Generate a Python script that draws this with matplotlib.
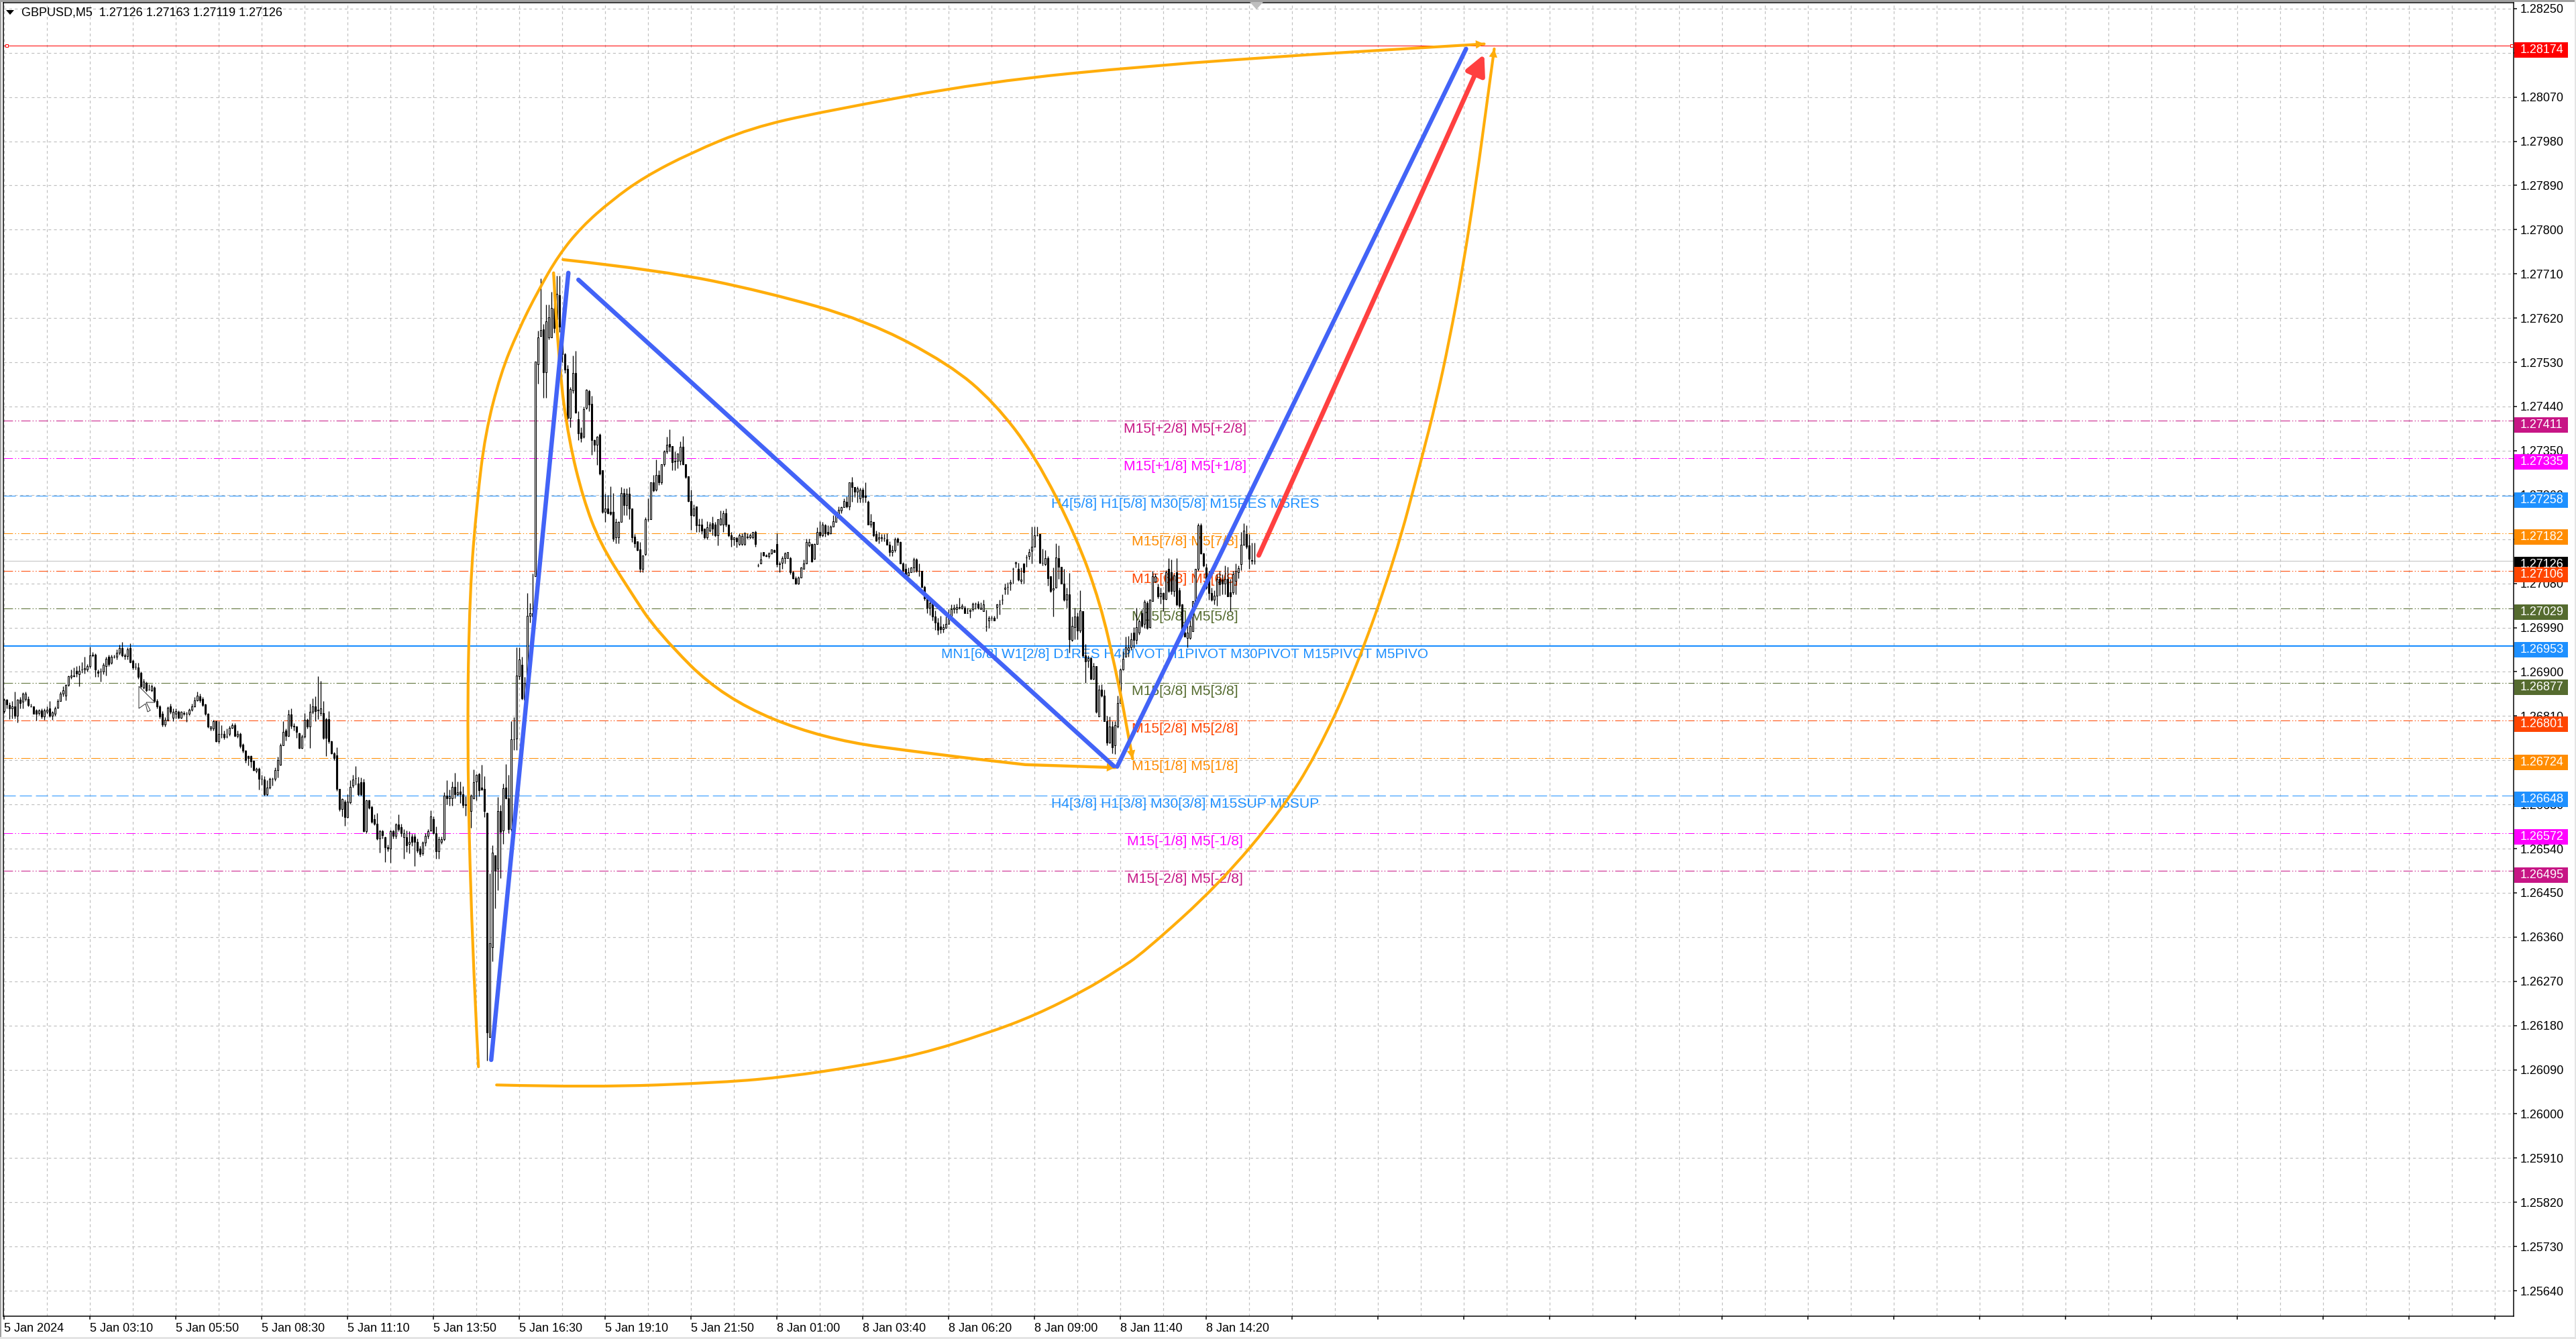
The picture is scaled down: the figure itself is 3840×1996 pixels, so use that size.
import numpy as np
import matplotlib
matplotlib.use("Agg")
import matplotlib.pyplot as plt
from matplotlib.path import Path
from matplotlib.patches import PathPatch, Rectangle, FancyArrowPatch, Polygon
from matplotlib.transforms import IdentityTransform, blended_transform_factory

# === Dati: GBPUSD M5, prezzi in punti sopra 1.26000 ===
BASE = 1.26
POINT = 1e-5

open_pts = [
    820, 843, 832, 825, 830, 811, 843, 839, 845, 845,
    830, 830, 822, 816, 821, 809, 819, 825, 811, 814,
    827, 841, 855, 852, 873, 889, 891, 902, 895, 904,
    905, 905, 911, 934, 935, 900, 900, 900, 912, 930,
    918, 930, 930, 939, 949, 934, 932, 948, 923, 910,
    909, 898, 868, 877, 864, 862, 868, 840, 830, 814,
    793, 802, 830, 807, 814, 818, 807, 816, 814, 814,
    823, 830, 842, 850, 844, 833, 814, 784, 785, 799,
    759, 773, 773, 768, 773, 786, 792, 770, 774, 752,
    739, 728, 728, 719, 698, 702, 682, 681, 650, 664,
    682, 682, 700, 711, 751, 780, 770, 813, 790, 789,
    775, 745, 768, 802, 789, 818, 830, 823, 816, 816,
    804, 804, 758, 734, 730, 661, 620, 636, 604, 634,
    668, 684, 673, 675, 675, 575, 638, 625, 600, 591,
    561, 575, 563, 543, 540, 575, 566, 589, 584, 563,
    563, 549, 565, 565, 554, 540, 531, 552, 566, 577,
    600, 572, 535, 554, 559, 648, 643, 643, 666, 651,
    656, 651, 630, 629, 617, 643, 676, 692, 664, 662,
    612, 156, 339, 526, 499, 617, 577, 664, 642, 579,
    763, 764, 891, 914, 843, 866, 1014, 1019, 1094, 1526,
    1583, 1597, 1510, 1580, 1581, 1640, 1617, 1667, 1603, 1546,
    1517, 1417, 1473, 1508, 1414, 1387, 1378, 1437, 1471, 1446,
    1372, 1362, 1383, 1310, 1226, 1232, 1226, 1225, 1173, 1173,
    1205, 1264, 1239, 1262, 1232, 1175, 1166, 1149, 1109, 1139,
    1210, 1210, 1285, 1271, 1301, 1285, 1323, 1348, 1364, 1360,
    1328, 1330, 1330, 1358, 1323, 1298, 1248, 1219, 1237, 1200,
    1200, 1191, 1173, 1187, 1203, 1200, 1178, 1200, 1200, 1223,
    1200, 1178, 1169, 1172, 1160, 1160, 1160, 1175, 1174, 1174,
    1185, 1117, 1121, 1144, 1137, 1135, 1141, 1148, 1160, 1119,
    1122, 1132, 1132, 1132, 1103, 1091, 1080, 1092, 1110, 1121,
    1157, 1160, 1130, 1160, 1185, 1178, 1198, 1185, 1182, 1196,
    1205, 1217, 1228, 1235, 1246, 1236, 1286, 1276, 1266, 1253,
    1271, 1258, 1246, 1200, 1205, 1180, 1171, 1172, 1172, 1170,
    1159, 1143, 1148, 1171, 1164, 1121, 1109, 1096, 1103, 1112,
    1129, 1105, 1105, 1073, 1050, 1030, 1040, 1012, 1000, 992,
    987, 989, 998, 1014, 1028, 1028, 1030, 1030, 1030, 1019,
    1024, 1028, 1039, 1039, 1028, 1024, 992, 1005, 1010, 1010,
    1032, 1037, 1046, 1069, 1073, 1080, 1110, 1121, 1110, 1085,
    1121, 1133, 1135, 1147, 1155, 1178, 1180, 1122, 1119, 1132,
    1094, 1067, 1071, 1132, 1114, 1080, 1046, 1058, 965, 991,
    1012, 984, 1023, 934, 923, 928, 886, 912, 809, 864,
    852, 800, 756, 789, 750, 789, 837, 905, 930, 944,
    950, 980, 965, 980, 1019, 998, 1040, 991, 1044, 1084,
    1073, 1053, 1060, 1048, 1110, 1103, 1064, 1103, 1066, 1037,
    980, 969, 969, 982, 1044, 1110, 1198, 1141, 1112, 1094,
    1060, 1046, 1055, 1089, 1087, 1080, 1089, 1062, 1062, 1085,
    1103, 1119, 1159, 1181, 1157, 1127, 1126,
]

close_pts = [
    843, 834, 825, 830, 811, 843, 836, 855, 855, 832,
    830, 814, 814, 821, 809, 821, 823, 811, 817, 825,
    841, 855, 862, 873, 891, 893, 893, 896, 902, 905,
    907, 911, 934, 935, 905, 898, 900, 914, 927, 915,
    930, 931, 939, 949, 934, 932, 946, 920, 909, 910,
    889, 871, 880, 862, 864, 871, 840, 830, 809, 793,
    802, 827, 818, 818, 820, 807, 818, 815, 814, 823,
    830, 842, 852, 842, 832, 814, 789, 789, 799, 759,
    773, 773, 767, 768, 786, 791, 770, 774, 749, 739,
    720, 725, 718, 700, 702, 682, 682, 650, 665, 682,
    682, 700, 720, 751, 777, 770, 813, 790, 789, 777,
    745, 768, 802, 789, 818, 830, 820, 822, 826, 766,
    766, 758, 734, 725, 661, 620, 641, 604, 636, 666,
    681, 684, 650, 650, 576, 638, 624, 595, 591, 561,
    575, 568, 543, 540, 575, 566, 589, 579, 572, 572,
    547, 554, 554, 554, 536, 529, 552, 566, 575, 606,
    572, 535, 559, 559, 648, 643, 647, 666, 651, 655,
    650, 629, 629, 642, 648, 675, 690, 659, 660, 616,
    166, 348, 532, 495, 616, 574, 663, 642, 579, 762,
    762, 892, 925, 846, 877, 1014, 1019, 1012, 1531, 1581,
    1595, 1510, 1613, 1621, 1641, 1600, 1669, 1603, 1546, 1515,
    1417, 1476, 1508, 1428, 1385, 1376, 1435, 1474, 1444, 1371,
    1362, 1378, 1303, 1226, 1232, 1223, 1221, 1171, 1205, 1205,
    1264, 1239, 1262, 1232, 1173, 1162, 1148, 1109, 1137, 1210,
    1211, 1285, 1269, 1301, 1285, 1323, 1348, 1362, 1358, 1326,
    1330, 1344, 1358, 1323, 1296, 1248, 1219, 1232, 1198, 1198,
    1187, 1173, 1194, 1200, 1191, 1178, 1210, 1212, 1223, 1200,
    1178, 1169, 1173, 1166, 1178, 1176, 1182, 1174, 1178, 1185,
    1160, 1117, 1129, 1137, 1136, 1141, 1149, 1144, 1119, 1121,
    1132, 1141, 1143, 1103, 1091, 1080, 1092, 1112, 1121, 1164,
    1164, 1125, 1160, 1185, 1178, 1199, 1182, 1180, 1196, 1207,
    1219, 1230, 1235, 1248, 1236, 1286, 1276, 1266, 1273, 1271,
    1255, 1256, 1200, 1207, 1178, 1167, 1173, 1174, 1172, 1158,
    1143, 1148, 1170, 1164, 1121, 1107, 1098, 1103, 1112, 1129,
    1105, 1105, 1073, 1050, 1030, 1040, 1012, 1000, 985, 987,
    991, 998, 1014, 1028, 1030, 1031, 1031, 1035, 1019, 1019,
    1026, 1039, 1039, 1030, 1030, 1037, 992, 1010, 1010, 1005,
    1037, 1037, 1046, 1071, 1073, 1082, 1110, 1123, 1087, 1087,
    1103, 1133, 1144, 1155, 1178, 1178, 1122, 1122, 1132, 1091,
    1064, 1070, 1133, 1113, 1080, 1046, 1057, 966, 993, 1012,
    984, 1025, 934, 921, 928, 886, 911, 818, 864, 852,
    800, 756, 788, 746, 791, 837, 904, 927, 950, 950,
    966, 965, 991, 1003, 994, 1043, 989, 1047, 1094, 1094,
    1053, 1060, 1048, 1103, 1064, 1064, 1096, 1037, 1035, 975,
    972, 980, 994, 1044, 1110, 1198, 1141, 1117, 1071, 1060,
    1046, 1055, 1089, 1078, 1080, 1089, 1053, 1053, 1098, 1105,
    1111, 1159, 1187, 1155, 1130, 1126, 1126,
]

high_pts = [
    846, 845, 838, 840, 860, 845, 848, 858, 859, 850,
    835, 830, 824, 824, 825, 825, 829, 841, 820, 830,
    845, 859, 870, 875, 893, 905, 909, 911, 913, 920,
    930, 916, 951, 940, 938, 905, 908, 918, 930, 935,
    935, 935, 945, 955, 960, 937, 950, 958, 925, 918,
    918, 900, 885, 880, 875, 875, 870, 845, 832, 820,
    808, 830, 835, 825, 825, 822, 820, 820, 818, 826,
    835, 848, 860, 855, 848, 835, 816, 790, 802, 801,
    800, 792, 780, 785, 790, 795, 795, 780, 776, 755,
    741, 730, 730, 720, 705, 705, 690, 688, 680, 685,
    685, 705, 727, 755, 800, 785, 823, 825, 795, 790,
    776, 772, 816, 805, 835, 846, 850, 891, 881, 840,
    806, 820, 760, 737, 746, 662, 643, 640, 650, 680,
    690, 708, 686, 685, 682, 640, 640, 628, 610, 612,
    578, 578, 565, 548, 578, 578, 592, 610, 590, 580,
    577, 575, 570, 570, 560, 545, 555, 572, 580, 618,
    605, 585, 565, 565, 655, 680, 660, 677, 694, 676,
    677, 667, 646, 660, 651, 701, 692, 694, 711, 688,
    614, 489, 547, 526, 645, 629, 673, 712, 690, 800,
    808, 950, 950, 930, 889, 1060, 1040, 1100, 1531, 1594,
    1701, 1608, 1647, 1647, 1674, 1650, 1706, 1706, 1610, 1549,
    1524, 1480, 1544, 1553, 1430, 1398, 1440, 1476, 1474, 1462,
    1373, 1380, 1385, 1310, 1262, 1260, 1278, 1264, 1212, 1207,
    1276, 1273, 1273, 1276, 1232, 1180, 1166, 1164, 1137, 1214,
    1253, 1285, 1301, 1332, 1310, 1323, 1351, 1378, 1394, 1360,
    1348, 1344, 1369, 1380, 1323, 1298, 1271, 1241, 1237, 1212,
    1212, 1191, 1206, 1205, 1216, 1205, 1210, 1228, 1228, 1232,
    1200, 1185, 1173, 1175, 1182, 1182, 1184, 1182, 1182, 1185,
    1187, 1120, 1144, 1144, 1139, 1143, 1149, 1149, 1182, 1125,
    1135, 1143, 1144, 1134, 1105, 1094, 1094, 1114, 1128, 1171,
    1171, 1162, 1162, 1194, 1207, 1205, 1201, 1198, 1198, 1219,
    1225, 1237, 1237, 1253, 1257, 1286, 1296, 1276, 1278, 1275,
    1275, 1285, 1249, 1221, 1205, 1187, 1185, 1180, 1180, 1182,
    1165, 1157, 1173, 1173, 1166, 1123, 1121, 1112, 1114, 1133,
    1132, 1121, 1105, 1075, 1055, 1048, 1045, 1025, 1010, 1014,
    998, 1012, 1028, 1037, 1037, 1039, 1051, 1039, 1035, 1030,
    1028, 1041, 1041, 1044, 1041, 1046, 1026, 1014, 1014, 1014,
    1039, 1046, 1058, 1080, 1082, 1087, 1112, 1125, 1122, 1112,
    1111, 1138, 1150, 1196, 1196, 1196, 1180, 1151, 1148, 1135,
    1094, 1112, 1162, 1157, 1114, 1110, 1071, 1101, 1012, 1030,
    1021, 1066, 1023, 957, 934, 930, 918, 912, 873, 875,
    864, 811, 809, 800, 800, 852, 907, 941, 971, 973,
    980, 991, 1030, 1007, 1028, 1046, 1044, 1048, 1105, 1100,
    1080, 1071, 1062, 1107, 1132, 1128, 1098, 1132, 1071, 1039,
    1003, 1003, 1021, 1044, 1110, 1203, 1203, 1142, 1121, 1105,
    1071, 1066, 1098, 1105, 1098, 1116, 1114, 1089, 1105, 1121,
    1116, 1185, 1203, 1198, 1180, 1163, 1163,
]

low_pts = [
    816, 825, 804, 805, 805, 797, 825, 825, 840, 830,
    828, 814, 801, 812, 805, 802, 815, 808, 802, 810,
    825, 840, 850, 842, 871, 885, 889, 890, 870, 898,
    896, 900, 908, 930, 890, 890, 880, 895, 893, 912,
    915, 928, 925, 935, 930, 925, 925, 918, 905, 905,
    885, 868, 865, 860, 862, 860, 838, 825, 805, 788,
    788, 800, 815, 800, 805, 805, 805, 812, 798, 812,
    820, 828, 840, 838, 830, 812, 786, 781, 780, 757,
    755, 765, 762, 765, 770, 785, 768, 765, 745, 735,
    715, 710, 705, 698, 695, 660, 670, 648, 648, 662,
    668, 678, 685, 710, 750, 760, 768, 785, 780, 765,
    744, 743, 765, 785, 745, 815, 800, 803, 810, 763,
    728, 755, 732, 720, 658, 616, 605, 586, 603, 632,
    665, 670, 648, 648, 574, 572, 620, 592, 588, 558,
    532, 560, 513, 535, 511, 560, 560, 575, 565, 520,
    533, 530, 545, 504, 532, 524, 527, 545, 560, 575,
    570, 520, 520, 550, 557, 630, 628, 628, 643, 648,
    633, 624, 607, 620, 583, 641, 638, 646, 659, 604,
    109, 156, 310, 419, 456, 480, 550, 641, 572, 575,
    741, 741, 884, 843, 841, 850, 1000, 1000, 1094, 1487,
    1585, 1458, 1458, 1576, 1581, 1590, 1603, 1592, 1530, 1508,
    1414, 1398, 1467, 1426, 1371, 1367, 1376, 1435, 1430, 1342,
    1348, 1321, 1301, 1223, 1205, 1221, 1219, 1166, 1162, 1162,
    1205, 1219, 1219, 1210, 1164, 1153, 1146, 1103, 1103, 1137,
    1207, 1210, 1266, 1268, 1280, 1282, 1319, 1345, 1348, 1310,
    1310, 1314, 1321, 1321, 1294, 1246, 1189, 1216, 1185, 1185,
    1180, 1171, 1169, 1185, 1178, 1175, 1157, 1198, 1185, 1196,
    1175, 1155, 1157, 1153, 1157, 1157, 1157, 1171, 1171, 1171,
    1155, 1114, 1121, 1135, 1134, 1132, 1139, 1144, 1114, 1103,
    1109, 1121, 1132, 1098, 1089, 1078, 1078, 1092, 1110, 1121,
    1155, 1123, 1128, 1160, 1173, 1175, 1175, 1178, 1180, 1196,
    1205, 1217, 1223, 1235, 1234, 1230, 1246, 1255, 1244, 1244,
    1244, 1244, 1200, 1194, 1175, 1165, 1162, 1166, 1166, 1158,
    1135, 1135, 1143, 1157, 1121, 1102, 1096, 1096, 1103, 1103,
    1103, 1094, 1071, 1045, 1020, 1015, 1005, 985, 975, 978,
    980, 989, 998, 1014, 1019, 1019, 1028, 1028, 1019, 1019,
    1010, 1024, 1028, 1028, 1028, 1028, 982, 989, 1005, 1005,
    1008, 1017, 1037, 1058, 1058, 1066, 1080, 1112, 1085, 1080,
    1080, 1113, 1128, 1121, 1155, 1176, 1121, 1117, 1117, 1075,
    1062, 1012, 1071, 1089, 1080, 1044, 1030, 939, 962, 966,
    966, 980, 930, 877, 909, 884, 884, 816, 809, 848,
    800, 751, 755, 734, 732, 786, 837, 903, 930, 930,
    944, 948, 957, 975, 991, 989, 987, 989, 1044, 1082,
    1050, 1039, 1023, 1046, 1062, 1057, 1053, 1034, 1030, 971,
    971, 950, 966, 982, 1044, 1105, 1139, 1114, 1069, 1046,
    1044, 1037, 1035, 1055, 1057, 1057, 1053, 1023, 1057, 1057,
    1091, 1107, 1157, 1151, 1110, 1119, 1119,
]

# Griglia e assi
y_ticks_top = 1.28250
y_tick_step = 0.0009
y_tick_count = 30
x_labels = ["5 Jan 2024", "5 Jan 03:10", "5 Jan 05:50", "5 Jan 08:30", "5 Jan 11:10",
            "5 Jan 13:50", "5 Jan 16:30", "5 Jan 19:10", "5 Jan 21:50", "8 Jan 01:00",
            "8 Jan 03:40", "8 Jan 06:20", "8 Jan 09:00", "8 Jan 11:40", "8 Jan 14:20"]
header = "GBPUSD,M5  1.27126 1.27163 1.27119 1.27126"

# Livelli orizzontali (prezzo, colore, stile)
level_prices = [1.28174, 1.27411, 1.27335, 1.27258, 1.27182, 1.27126, 1.27106, 1.27029,
                1.26953, 1.26877, 1.26801, 1.26724, 1.26648, 1.26572, 1.26495]
level_colors = ["#FF0000", "#C71585", "#FF00FF", "#1E90FF", "#FF8C00", "#000000", "#FF4500", "#556B2F",
                "#1E90FF", "#556B2F", "#FF4500", "#FF8C00", "#1E90FF", "#FF00FF", "#C71585"]
level_styles = ["solid", "dd", "dd", "dash", "dd", "price", "dd", "dd",
                "thick", "dd", "dd", "dd", "dash", "dd", "dd"]
level_texts = ["", "M15[+2/8] M5[+2/8]", "M15[+1/8] M5[+1/8]",
               "H4[5/8] H1[5/8] M30[5/8] M15RES M5RES", "M15[7/8] M5[7/8]", "",
               "M15[6/8] M5[6/8]", "M15[5/8] M5[5/8]",
               "MN1[6/8] W1[2/8] D1RES H4PIVOT H1PIVOT M30PIVOT M15PIVOT M5PIVO",
               "M15[3/8] M5[3/8]", "M15[2/8] M5[2/8]", "M15[1/8] M5[1/8]",
               "H4[3/8] H1[3/8] M30[3/8] M15SUP M5SUP", "M15[-1/8] M5[-1/8]", "M15[-2/8] M5[-2/8]"]
level_text_bar = 440

# Zigzag blu e freccia rossa (indice barra, prezzo)
zigzag_x = [[181.5, 210.25], [214, 413.5], [414.75, 544.75]]
zigzag_y = [[1.26110, 1.27712], [1.27698, 1.26708], [1.26707, 1.28168]]
red_x = [467.5, 551.5]
red_y = [1.27137, 1.28157]

# Archi arancioni
arc_a_x = [176.75, 174.25, 172.5, 173.5, 176.25, 179.25, 185, 191.5, 199, 206.75, 215.25, 226.25, 238.5, 255.75, 278.25, 304.75, 366, 427.25, 488.5, 551.5]
arc_a_y = [1.26096, 1.26356, 1.26763, 1.27066, 1.27248, 1.27384, 1.27507, 1.27594, 1.27676, 1.27749, 1.27806, 1.27859, 1.27907, 1.27956, 1.28007, 1.28040, 1.28101, 1.28134, 1.28157, 1.28178]
arc_b_x = [208.25, 245, 283.25, 321.5, 352.25, 369, 384.25, 399.5, 408.5, 414.25, 416.75, 420.5]
arc_b_y = [1.27739, 1.27717, 1.27674, 1.27615, 1.27526, 1.27448, 1.27339, 1.27175, 1.27039, 1.26902, 1.26834, 1.26723]
arc_c_x = [204.75, 206.75, 210.5, 215.75, 222, 233, 243.5, 268, 304.75, 348.5, 380.5, 414]
arc_c_y = [1.27712, 1.27517, 1.27370, 1.27253, 1.27162, 1.27066, 1.26980, 1.26846, 1.26763, 1.26731, 1.26711, 1.26705]
arc_d_x = [183.5, 219, 268, 292.25, 316.75, 341, 365.75, 384.25, 402.5, 414.75, 424.5, 453, 476, 488.75, 503.5, 518.25, 528.25, 533.5, 538.5, 543.5, 548.5, 552.25, 555.25]
arc_d_y = [1.26059, 1.26054, 1.26064, 1.26076, 1.26096, 1.26121, 1.26163, 1.26201, 1.26251, 1.26292, 1.26328, 1.26469, 1.26619, 1.26729, 1.26902, 1.27130, 1.27335, 1.27448, 1.27574, 1.27721, 1.27896, 1.28047, 1.28168]

FONT = "Liberation Sans"
W, H = 3840, 1996
plt.rcParams["font.family"] = [FONT, "DejaVu Sans"]
plt.rcParams["lines.scale_dashes"] = False

PX = 0.72  # un pixel in punti a dpi 100
GRID = "#C0C0C0"
ORANGE = "#FFAD0A"
BLUE = "#4263F7"
RED = "#FF4040"
TICK_SIZE = 13

bars = np.arange(len(close_pts))
opens = BASE + np.array(open_pts) * POINT
closes = BASE + np.array(close_pts) * POINT
highs = BASE + np.array(high_pts) * POINT
lows = BASE + np.array(low_pts) * POINT

fig = plt.figure(figsize=(W / 100, H / 100), dpi=100, facecolor="white")
ax = fig.add_axes([4.5 / W, (H - 1961.7) / H, (3746.7 - 4.5) / W, (1961.7 - 4) / H])
ax.set_xlim(-0.4, 935)
ax.set_ylim(1.255887, 1.28262)

# griglia
y_ticks = [y_ticks_top - i * y_tick_step for i in range(y_tick_count)]
ax.yaxis.tick_right()
ax.set_yticks(y_ticks)
ax.set_yticklabels(["%.5f" % t for t in y_ticks])
tick_bars = np.arange(0, 935, 32)
ax.set_xticks(tick_bars)
ax.set_xticklabels([x_labels[i] if i < len(x_labels) else "" for i in range(len(tick_bars))], ha="left")
ax.set_xticks(np.arange(16, 935, 32), minor=True)
ax.tick_params(axis="both", which="major", length=5 * PX, width=1.5 * PX, pad=5 * PX, labelsize=TICK_SIZE)
ax.tick_params(axis="x", which="minor", length=0)
ax.set_axisbelow(True)
ax.grid(True, which="both", color=GRID, lw=1.2 * PX, linestyle=(0, (3, 3)))
for s in ax.spines.values():
    s.set_linewidth(1.5 * PX)
    s.set_color("black")

# Disegna i livelli
dash_styles = {"dd": (0, (10, 2.2, 1.1, 2.2, 1.1, 2.2)), "dash": (0, (13, 4.3)), "solid": "-", "thick": "-", "price": "-"}
for price, col, st, txt in zip(level_prices, level_colors, level_styles, level_texts):
    line_col = GRID if st == "price" else col
    lw = 2.2 * PX if st == "thick" else 1.0 * PX
    ax.axhline(price, color=line_col, lw=lw, linestyle=dash_styles[st], zorder=1.8)
    if txt:
        size = 15.2 if len(txt) < 50 else 14.95
        ax.text(level_text_bar, price - 12.5 * 1.3657e-5, txt, color=col, fontsize=size, ha="center", va="center", zorder=2.2)

# Candele
ax.vlines(bars, lows, highs, color="black", lw=1.3 * PX, zorder=3)
up = closes >= opens
ax.bar(bars[up], (closes - opens)[up], bottom=opens[up], width=0.5, facecolor="white", edgecolor="black", lw=1.1 * PX, zorder=3.1)
ax.bar(bars[~up], (opens - closes)[~up], bottom=closes[~up], width=0.5, facecolor="black", edgecolor="black", lw=1.1 * PX, zorder=3.1)


def draw_arc(xs, ys, lw):
    # curva liscia con i punti letti come controlli, freccia all'ultimo tratto
    pts = list(zip(xs[:-1], ys[:-1]))
    verts = [pts[0]]
    codes = [Path.MOVETO]
    for a, b in zip(pts[1:-1], pts[2:]):
        verts += [a, ((a[0] + b[0]) / 2, (a[1] + b[1]) / 2)]
        codes += [Path.CURVE3, Path.CURVE3]
    verts += [pts[-1], (xs[-1], ys[-1])]
    codes += [Path.LINETO, Path.LINETO]
    ax.add_patch(PathPatch(Path(verts, codes), fill=False, edgecolor=ORANGE, lw=lw, capstyle="round", joinstyle="round", zorder=4))
    head = FancyArrowPatch((xs[-2], ys[-2]), (xs[-1], ys[-1]), arrowstyle="-|>,head_length=9,head_width=4.5",
                           mutation_scale=1, color=ORANGE, lw=0, shrinkA=0, shrinkB=0, zorder=4.2)
    ax.add_patch(head)


draw_arc(arc_a_x, arc_a_y, 4.2 * PX)
draw_arc(arc_b_x, arc_b_y, 4.4 * PX)
draw_arc(arc_c_x, arc_c_y, 4.4 * PX)
draw_arc(arc_d_x, arc_d_y, 4.2 * PX)

for xs, ys in zip(zigzag_x, zigzag_y):
    ax.plot(xs, ys, color=BLUE, lw=6.5 * PX, solid_capstyle="round", zorder=4.5)
ax.add_patch(FancyArrowPatch((red_x[0], red_y[0]), (red_x[1], red_y[1]), arrowstyle="-|>,head_length=18,head_width=9",
                             mutation_scale=1, color=RED, lw=7 * PX, capstyle="round", shrinkA=0, shrinkB=0, zorder=4.6))

# Etichette di prezzo a destra (x in pixel, y in prezzo)
px_y = blended_transform_factory(IdentityTransform(), ax.transData)
k = 0.0009 / 65.9
for price, col in zip(level_prices, level_colors):
    ax.add_patch(Rectangle((3748, price - 17.5 * k), 80, 23 * k, transform=px_y, facecolor=col, edgecolor="none", clip_on=False, zorder=10))
    ax.text(3757, price - 6 * k, "%.5f" % price, transform=px_y, color="white", fontsize=TICK_SIZE, ha="left", va="center", clip_on=False, zorder=11)

# Quadratini della linea rossa
ax.plot([0.85, 3743 / 4 - 1.5], [level_prices[0]] * 2, linestyle="none", marker="s", ms=5 * PX, mfc="white", mec="#FF0000", mew=1 * PX, zorder=5)

# Intestazione, cornice finestra e puntatore del mouse
ids = IdentityTransform()
fig.add_artist(Rectangle((0, H - 3), W, 3, transform=ids, facecolor="#A0A0A0", edgecolor="none"))
fig.add_artist(Rectangle((0, 0), 2, H, transform=ids, facecolor="#A0A0A0", edgecolor="none"))
fig.add_artist(Rectangle((3838, 0), 2, H, transform=ids, facecolor="#E4E4E4", edgecolor="none"))
fig.add_artist(Rectangle((0, 0), W, 3, transform=ids, facecolor="#E4E4E4", edgecolor="none"))
fig.add_artist(Polygon([(9, H - 15), (21, H - 15), (15, H - 22)], closed=True, transform=ids, facecolor="black", edgecolor="none"))
fig.add_artist(Polygon([(1863, H - 3), (1883, H - 3), (1873, H - 14)], closed=True, transform=ids, facecolor="#BEBEBE", edgecolor="none"))
cursor_px = [(207, 1023), (207, 1056), (217, 1049), (220, 1061), (224, 1059), (218, 1047), (231, 1047)]
fig.add_artist(Polygon([(x, H - y) for x, y in cursor_px], closed=True, transform=ids, facecolor="white", edgecolor="#303030", lw=1 * PX))
fig.text(32 / W, 1 - 19 / H, header, fontsize=TICK_SIZE, color="black", ha="left", va="center")

fig.savefig("out.png", dpi=100)
